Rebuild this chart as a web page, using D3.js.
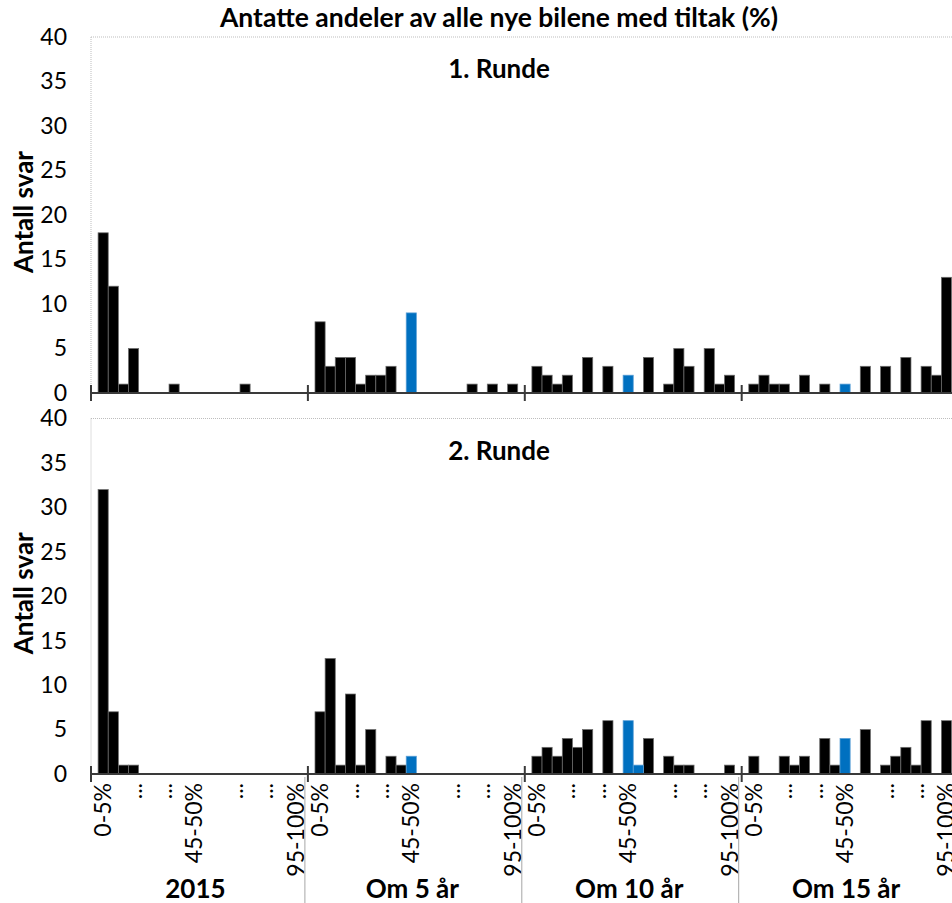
<!DOCTYPE html>
<html><head><meta charset="utf-8">
<script src="https://cdn.jsdelivr.net/npm/d3@7"></script>
<style>
body{margin:0;background:#fff;}
svg{display:block;font-family:Lato,"Open Sans",sans-serif;}
</style>
</head><body>
<svg id="chart" width="952" height="903"></svg>
<script>
// ---------- data ----------
const groups = ["2015", "Om 5 år", "Om 10 år", "Om 15 år"];
const bins = ["0-5%","5-10%","10-15%","15-20%","20-25%","25-30%","30-35%","35-40%","40-45%","45-50%",
              "50-55%","55-60%","60-65%","65-70%","70-75%","75-80%","80-85%","85-90%","90-95%","95-100%"];
const binTickLabels = ["0-5%","","","...","","","...","","","45-50%",
                       "","","","...","","","...","","","95-100%"];
const yTicks = [0,5,10,15,20,25,30,35,40];
const panelTitles = ["1. Runde", "2. Runde"];

// Round 1 (black series)
const r1_2015 = [18,12,1,5,0,0,0,1,0,0,0,0,0,0,1,0,0,0,0,0];
const r1_5    = [8,3,4,4,1,2,2,3,0,0,0,0,0,0,0,1,0,1,0,1];
const r1_10   = [3,2,1,2,0,4,0,3,0,0,0,4,0,1,5,3,0,5,1,2];
const r1_15   = [1,2,1,1,0,2,0,1,0,0,0,3,0,3,0,4,0,3,2,13];
// Round 1 (blue series)
const r1b_2015 = [0,0,0,0,0,0,0,0,0,0,0,0,0,0,0,0,0,0,0,0];
const r1b_5    = [0,0,0,0,0,0,0,0,0,9,0,0,0,0,0,0,0,0,0,0];
const r1b_10   = [0,0,0,0,0,0,0,0,0,2,0,0,0,0,0,0,0,0,0,0];
const r1b_15   = [0,0,0,0,0,0,0,0,0,1,0,0,0,0,0,0,0,0,0,0];
// Round 2 (black series)
const r2_2015 = [32,7,1,1,0,0,0,0,0,0,0,0,0,0,0,0,0,0,0,0];
const r2_5    = [7,13,1,9,1,5,0,2,1,0,0,0,0,0,0,0,0,0,0,0];
const r2_10   = [2,3,2,4,3,5,0,6,0,0,0,4,0,2,1,1,0,0,0,1];
const r2_15   = [2,0,0,2,1,2,0,4,1,0,0,5,0,1,2,3,1,6,0,6];
// Round 2 (blue series)
const r2b_2015 = [0,0,0,0,0,0,0,0,0,0,0,0,0,0,0,0,0,0,0,0];
const r2b_5    = [0,0,0,0,0,0,0,0,0,2,0,0,0,0,0,0,0,0,0,0];
const r2b_10   = [0,0,0,0,0,0,0,0,0,6,1,0,0,0,0,0,0,0,0,0];
const r2b_15   = [0,0,0,0,0,0,0,0,0,4,0,0,0,0,0,0,0,0,0,0];

const panels = [
  {title: panelTitles[0], black: [r1_2015, r1_5, r1_10, r1_15], blue: [r1b_2015, r1b_5, r1b_10, r1b_15]},
  {title: panelTitles[1], black: [r2_2015, r2_5, r2_10, r2_15], blue: [r2b_2015, r2b_5, r2b_10, r2b_15]}
];

// ---------- layout ----------
const svg = d3.select("#chart");
const W = 952, H = 903;
const left = 91, right = 958.6;
const panelY = [[393, 37], [774, 418.5]];
const fs = 23, bfs = 26.5;

const gx = d3.scaleBand().domain(groups).range([left, right]).padding(0);
const bx = d3.scaleBand().domain(bins).range([0, gx.bandwidth()]).paddingInner(0).paddingOuter(0.7);

svg.append("text").attr("x", 499).attr("y", 27).attr("text-anchor", "middle")
  .attr("font-weight", "bold").attr("font-size", bfs).attr("fill", "#000")
  .text("Antatte andeler av alle nye bilene med tiltak (%)");

panels.forEach((p, pi) => {
  const y = d3.scaleLinear().domain([0, 40]).range(panelY[pi]);
  const g = svg.append("g");

  // dotted plot-area border (top and left)
  g.append("line").attr("x1", left).attr("x2", W).attr("y1", y(40)).attr("y2", y(40))
    .attr("stroke", "#bdbdbd").attr("stroke-width", 1).attr("stroke-dasharray", "1,1");
  g.append("line").attr("x1", left).attr("x2", left).attr("y1", y(40)).attr("y2", y(0))
    .attr("stroke", "#bdbdbd").attr("stroke-width", 1).attr("stroke-dasharray", "1,1");

  // y axis
  const ya = g.append("g").attr("transform", `translate(${left},0)`)
    .call(d3.axisLeft(y).tickValues(yTicks).tickSize(0).tickPadding(24));
  ya.select(".domain").remove();
  ya.selectAll("text").attr("font-size", fs).attr("font-family", "Lato,'Open Sans',sans-serif").attr("fill", "#000");

  // y title
  g.append("text")
    .attr("transform", `translate(33,${(y(0) + y(40)) / 2 - 3}) rotate(-90)`)
    .attr("text-anchor", "middle").attr("font-weight", "bold").attr("font-size", 26)
    .text("Antall svar");

  // panel title
  g.append("text").attr("x", 499).attr("y", y(40) + 41).attr("text-anchor", "middle")
    .attr("font-weight", "bold").attr("font-size", 26).text(p.title);

  // bars
  groups.forEach((grp, gi) => {
    const gg = g.append("g").attr("transform", `translate(${gx(grp)},0)`);
    gg.selectAll("rect.k").data(bins.map((b, i) => ({b, v: p.black[gi][i]})).filter(d => d.v > 0))
      .join("rect").attr("class", "k")
      .attr("x", d => bx(d.b)).attr("width", bx.bandwidth())
      .attr("y", d => y(d.v)).attr("height", d => y(0) - y(d.v))
      .attr("fill", "#000").attr("stroke", "#6d6d6d").attr("stroke-width", 0.75);
    gg.selectAll("rect.b").data(bins.map((b, i) => ({b, v: p.blue[gi][i]})).filter(d => d.v > 0))
      .join("rect").attr("class", "b")
      .attr("x", d => bx(d.b)).attr("width", bx.bandwidth())
      .attr("y", d => y(d.v)).attr("height", d => y(0) - y(d.v))
      .attr("fill", "#0070C0").attr("stroke", "#5a9fd6").attr("stroke-width", 0.75);
  });

  // x axis line + group ticks
  g.append("line").attr("x1", left).attr("x2", W).attr("y1", y(0)).attr("y2", y(0))
    .attr("stroke", "#3a3a3a").attr("stroke-width", 2);
  const bounds = groups.map(d => gx(d)).concat([gx(groups[groups.length - 1]) + gx.bandwidth()]);
  g.selectAll("line.tk").data(bounds).join("line").attr("class", "tk")
    .attr("x1", d => d).attr("x2", d => d).attr("y1", y(0) - 8).attr("y2", y(0) + 8)
    .attr("stroke", "#3a3a3a").attr("stroke-width", 2);

  // category labels only on the bottom panel
  if (pi === 1) {
    groups.forEach((grp) => {
      const lg = g.append("g").attr("transform", `translate(${gx(grp)},0)`);
      lg.selectAll("text").data(bins.map((b, i) => ({b, t: binTickLabels[i]})).filter(d => d.t))
        .join("text")
        .attr("transform", d => `translate(${bx(d.b) + bx.bandwidth() / 2},${y(0) + 9}) rotate(-90)`)
        .attr("dy", "0.35em").attr("text-anchor", "end").attr("font-size", fs).text(d => d.t);
      svg.append("text").attr("x", gx(grp) + gx.bandwidth() / 2 - 4).attr("y", 898)
        .attr("text-anchor", "middle").attr("font-weight", "bold").attr("font-size", 26).text(grp);
    });
    // separators between groups in label area
    g.selectAll("line.sep").data(bounds.slice(1)).join("line").attr("class", "sep")
      .attr("x1", d => d - 3).attr("x2", d => d - 3).attr("y1", y(0) + 3).attr("y2", H)
      .attr("stroke", "#a6a6a6").attr("stroke-width", 1);
  }
});
</script>
</body></html>
